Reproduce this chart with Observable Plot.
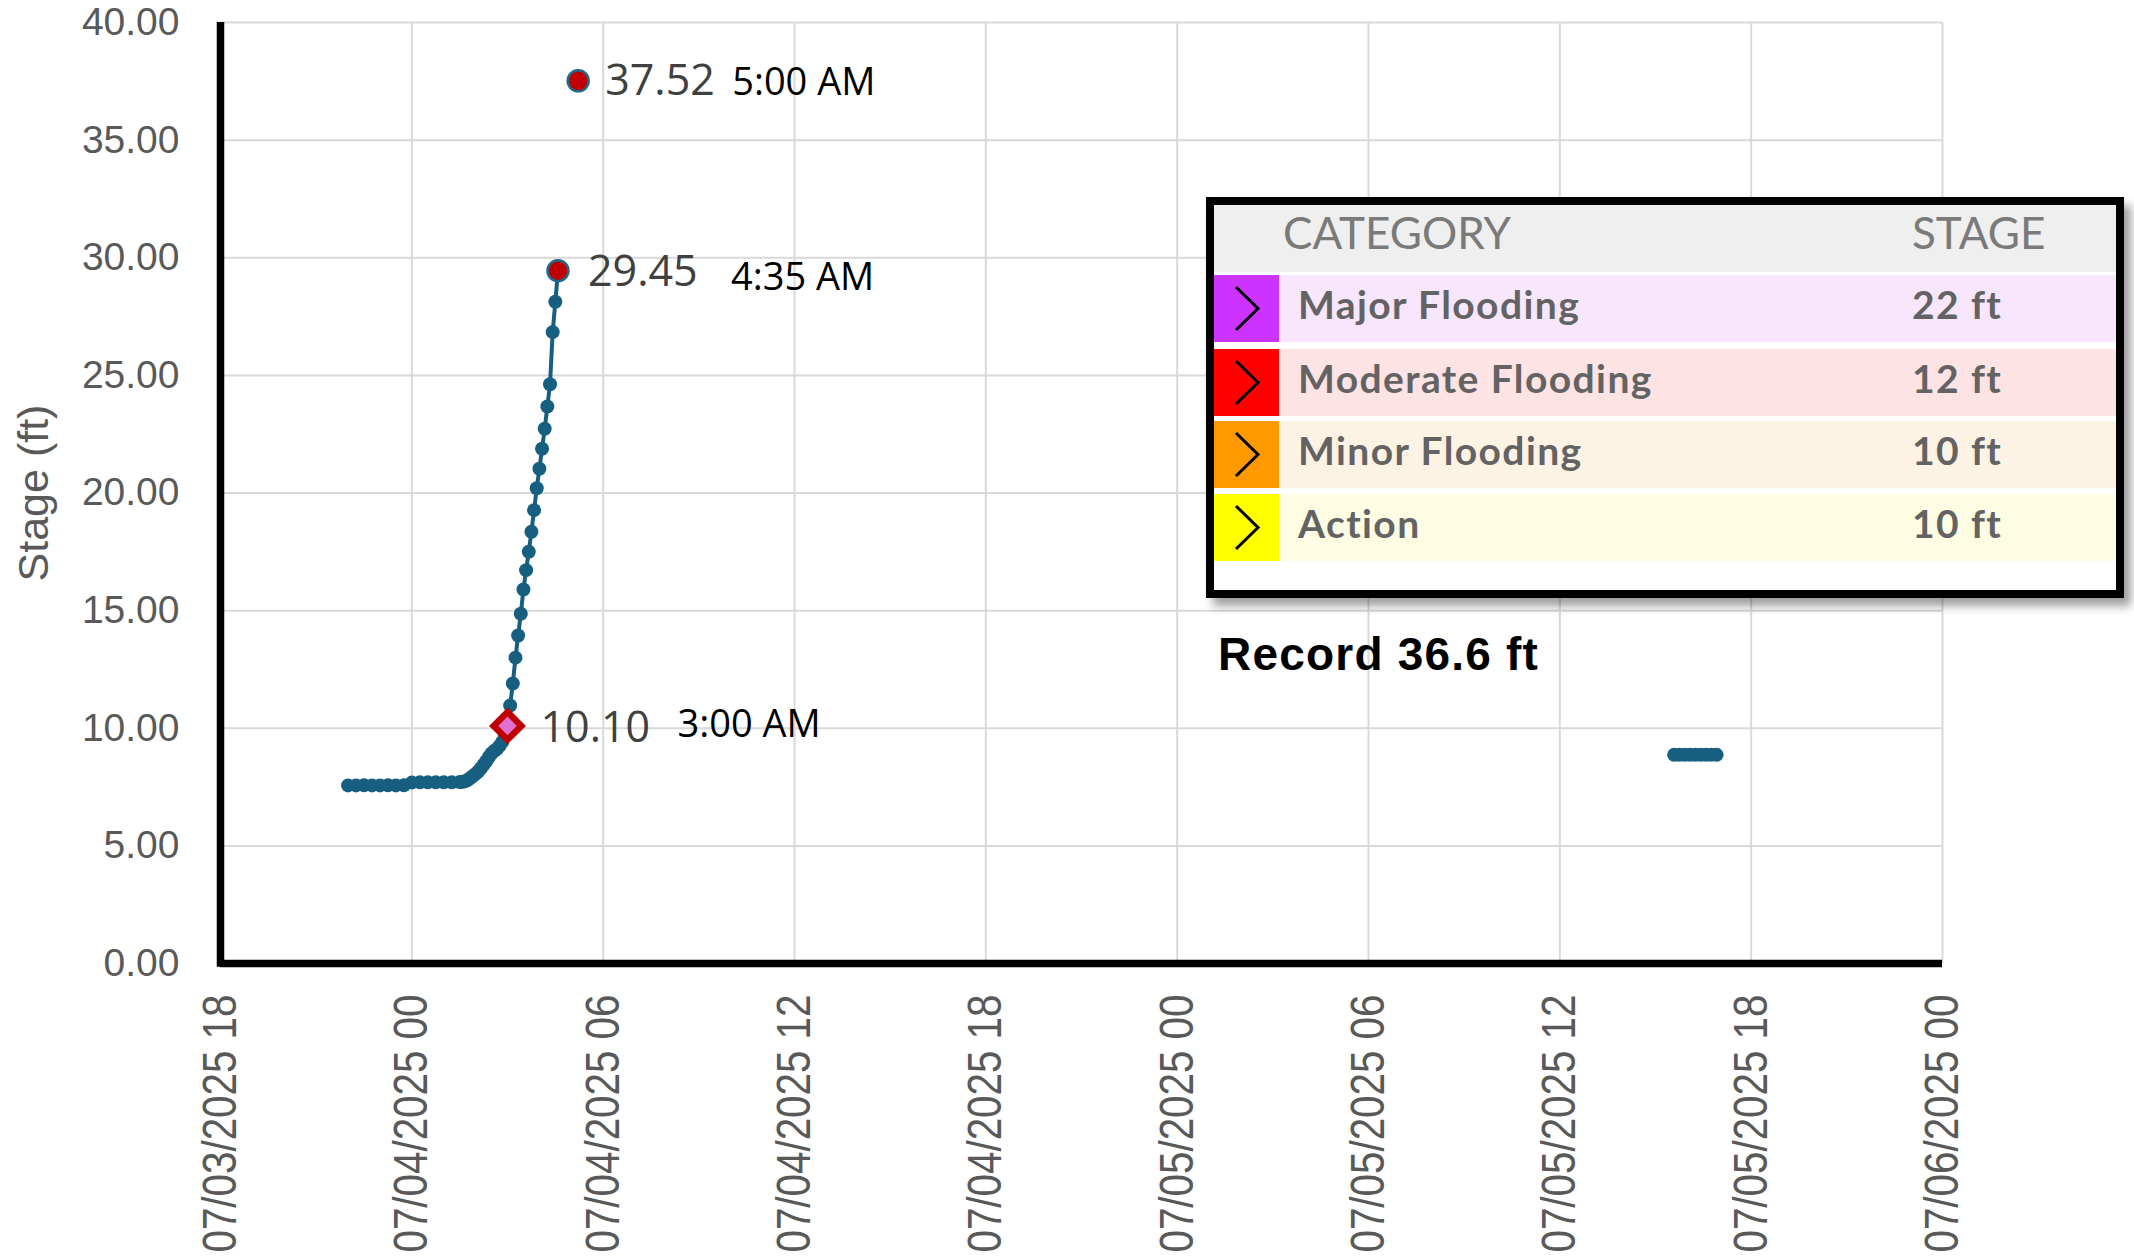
<!DOCTYPE html>
<html>
<head>
<meta charset="utf-8">
<script src="https://cdn.jsdelivr.net/npm/d3@7"></script>
<script src="https://cdn.jsdelivr.net/npm/@observablehq/plot@0.6"></script>
<style>
  body { margin: 0; background: #fff; }
  #wrap { position: relative; width: 2134px; height: 1259px; overflow: hidden; background: #fff; }
  #legend { position: absolute; left: 1206px; top: 197px; width: 902px; height: 385px;
            border: 8px solid #000; background: #fff; box-shadow: 7px 8px 9px rgba(0,0,0,0.38);
            font-family: Lato, "Open Sans", sans-serif; }
  #legend .hdr { position: absolute; left: 0; top: 0; width: 902px; height: 67px; background: #efefef; }
  #legend .hdr span { position: absolute; top: 5px; font-size: 44px; line-height: 1; color: #7a7a7a; font-weight: 400; }
  #legend .row { position: absolute; left: 0; width: 902px; height: 67px; }
  #legend .sw { position: absolute; left: 0; top: 0; width: 65px; height: 67px; }
  #legend .sw svg { display: block; }
  #legend .row span { position: absolute; top: 10px; font-size: 39px; line-height: 1; color: #636363; font-weight: 700; letter-spacing: 1.4px; }
  #record { position: absolute; left: 1218px; top: 631px; font-family: "Liberation Sans", Arial, sans-serif;
            font-weight: 700; font-size: 46px; line-height: 1; letter-spacing: 1.2px; color: #000; }
</style>
</head>
<body>
<div id="wrap">
  <div id="chart"></div>
  <div id="legend"></div>
  <div id="record"></div>
</div>
<script>
// ---------------- data ----------------
const seg1Times = [
  "2025-07-03T22:00","2025-07-03T22:15","2025-07-03T22:30","2025-07-03T22:45",
  "2025-07-03T23:00","2025-07-03T23:15","2025-07-03T23:30","2025-07-03T23:45",
  "2025-07-04T00:00","2025-07-04T00:15","2025-07-04T00:30","2025-07-04T00:45",
  "2025-07-04T01:00","2025-07-04T01:15","2025-07-04T01:30",
  "2025-07-04T01:35","2025-07-04T01:40","2025-07-04T01:45","2025-07-04T01:50","2025-07-04T01:55",
  "2025-07-04T02:00","2025-07-04T02:05","2025-07-04T02:10","2025-07-04T02:15","2025-07-04T02:20",
  "2025-07-04T02:25","2025-07-04T02:30","2025-07-04T02:35","2025-07-04T02:40","2025-07-04T02:45",
  "2025-07-04T02:50","2025-07-04T02:55","2025-07-04T03:00",
  "2025-07-04T03:05","2025-07-04T03:10","2025-07-04T03:15","2025-07-04T03:20","2025-07-04T03:25",
  "2025-07-04T03:30","2025-07-04T03:35","2025-07-04T03:40","2025-07-04T03:45","2025-07-04T03:50",
  "2025-07-04T03:55","2025-07-04T04:00","2025-07-04T04:05","2025-07-04T04:10","2025-07-04T04:15",
  "2025-07-04T04:20","2025-07-04T04:25","2025-07-04T04:30","2025-07-04T04:35"
];
const seg1Stage = [
  7.57, 7.57, 7.58, 7.57,
  7.57, 7.58, 7.57, 7.58,
  7.69, 7.70, 7.70, 7.70,
  7.70, 7.70, 7.71,
  7.72, 7.75, 7.80, 7.88, 7.97,
  8.06, 8.16, 8.30, 8.45, 8.60,
  8.78, 8.93, 9.03, 9.12, 9.25,
  9.42, 9.70, 10.10,
  10.97, 11.90, 13.00, 13.94, 14.87,
  15.90, 16.72, 17.50, 18.35, 19.27,
  20.20, 21.03, 21.88, 22.73, 23.68,
  24.62, 26.84, 28.13, 29.45
];
const seg2Times = [
  "2025-07-05T15:35","2025-07-05T15:45","2025-07-05T15:55","2025-07-05T16:05","2025-07-05T16:15",
  "2025-07-05T16:25","2025-07-05T16:35","2025-07-05T16:45","2025-07-05T16:55"
];
const seg2Stage = [8.87, 8.87, 8.87, 8.87, 8.87, 8.87, 8.87, 8.87, 8.87];

const peakTimes = ["2025-07-04T05:13", "2025-07-04T04:35"];
const peakStage = [37.52, 29.45];
const crossTime = ["2025-07-04T03:00"];
const crossStage = [10.10];

const annTimes  = ["2025-07-04T05:13", "2025-07-04T04:35", "2025-07-04T03:00"];
const annStage  = [37.52, 29.45, 10.10];
const annValueLabels = ["37.52", "29.45", "10.10"];
const annTimeLabels  = ["5:00 AM", "4:35 AM", "3:00 AM"];

const xTicks = ["2025-07-03T18:00","2025-07-04T00:00","2025-07-04T06:00","2025-07-04T12:00",
                "2025-07-04T18:00","2025-07-05T00:00","2025-07-05T06:00","2025-07-05T12:00",
                "2025-07-05T18:00","2025-07-06T00:00"];
const yTicks = [0, 5, 10, 15, 20, 25, 30, 35, 40];
const yTitle = "Stage (ft)";

const legendCategories = ["Major Flooding", "Moderate Flooding", "Minor Flooding", "Action"];
const legendStages = ["22 ft", "12 ft", "10 ft", "10 ft"];
const legendSwatches = ["#cc33ff", "#ff0000", "#ff9900", "#ffff00"];
const legendRowBg = ["#f8e6fd", "#fde3e3", "#fdf3e5", "#fefde4"];
const recordText = "Record 36.6 ft";

// ---------------- build ----------------
const parse = s => new Date(s + ":00Z");
const series = [
  ...seg1Times.map((t, i) => ({t: parse(t), v: seg1Stage[i], s: "a"})),
  ...seg2Times.map((t, i) => ({t: parse(t), v: seg2Stage[i], s: "b"}))
];
const peaks = peakTimes.map((t, i) => ({t: parse(t), v: peakStage[i]}));
const cross = crossTime.map((t, i) => ({t: parse(t), v: crossStage[i]}));
const anns = annTimes.map((t, i) => ({t: parse(t), v: annStage[i], num: annValueLabels[i], time: annTimeLabels[i]}));
const xT = xTicks.map(parse);

const col = "#175f80";
const numDx = [27, 30, 33], numDy = [0, 2, 2];
const timeDx = [154, 173, 170], timeDy = [2, 7, -1];

const annMarks = [];
anns.forEach((a, i) => {
  annMarks.push(Plot.text([a], {x: "t", y: "v", text: "num", dx: numDx[i], dy: numDy[i], textAnchor: "start",
    fontSize: 43, fill: "#404040", fontFamily: "Open Sans, sans-serif"}));
  annMarks.push(Plot.text([a], {x: "t", y: "v", text: "time", dx: timeDx[i], dy: timeDy[i], textAnchor: "start",
    fontSize: 38, fill: "#000", fontFamily: "Open Sans, sans-serif"}));
});

const chart = Plot.plot({
  width: 2134, height: 1259,
  marginLeft: 220, marginRight: 192, marginTop: 22, marginBottom: 296,
  style: {background: "#fff", fontFamily: "Liberation Sans, Arial, sans-serif", overflow: "visible"},
  x: {type: "utc", domain: [xT[0], xT[xT.length - 1]]},
  y: {domain: [0, 40]},
  marks: [
    Plot.gridY(yTicks, {stroke: "#d9d9d9", strokeOpacity: 1, strokeWidth: 2}),
    Plot.gridX(xT, {stroke: "#d9d9d9", strokeOpacity: 1, strokeWidth: 2}),
    Plot.axisY(yTicks, {tickSize: 0, tickPadding: 41, tickFormat: d => d.toFixed(2), fontSize: 39,
      fill: "#595959", fontFamily: "Liberation Sans, Arial, sans-serif", label: null}),
    Plot.axisX(xT, {tickSize: 0, tickRotate: -90, tickPadding: 31, tickFormat: d3.utcFormat("%m/%d/%Y %H"),
      fontSize: 48, fill: "#595959", fontFamily: "Liberation Sans, Arial, sans-serif", label: null}),
    Plot.text([yTitle], {frameAnchor: "left", textAnchor: "middle", dx: -186, rotate: -90, fontSize: 43, fill: "#595959",
      fontFamily: "Liberation Sans, Arial, sans-serif"}),
    Plot.ruleX([xT[0]], {stroke: "#000", strokeWidth: 7.5, insetBottom: -3.75}),
    Plot.ruleY([0], {stroke: "#000", strokeWidth: 7.5}),
    Plot.line(series, {x: "t", y: "v", z: "s", stroke: col, strokeWidth: 4}),
    Plot.dot(series, {x: "t", y: "v", r: 7, fill: col}),
    Plot.dot(peaks, {x: "t", y: "v", r: 10.5, fill: "#c00000", stroke: "#1f6a8a", strokeWidth: 2.5}),
    Plot.dot(cross, {x: "t", y: "v", symbol: "diamond2", r: 12.5, fill: "#e070d0", stroke: "#c00000", strokeWidth: 6.5}),
    ...annMarks
  ]
});
// narrow the rotated x tick labels to the reference's condensed proportions
chart.querySelectorAll('g[aria-label="x-axis tick label"] text').forEach(t => {
  t.setAttribute("textLength", "258");
  t.setAttribute("lengthAdjust", "spacingAndGlyphs");
});
document.getElementById("chart").appendChild(chart);

// legend (overlay table)
const lg = document.getElementById("legend");
let html = '<div class="hdr"><span style="left:69px">CATEGORY</span><span style="left:698px">STAGE</span></div>';
const rowTops = [70, 144, 216, 289];
legendCategories.forEach((c, i) => {
  html += `<div class="row" style="top:${rowTops[i]}px;background:${legendRowBg[i]}">` +
    `<div class="sw" style="background:${legendSwatches[i]}"><svg width="65" height="67">` +
    `<polyline points="22,12 44,33.5 22,55" fill="none" stroke="#000" stroke-width="3"/></svg></div>` +
    `<span style="left:84px">${c}</span><span style="left:698px">${legendStages[i]}</span></div>`;
});
lg.innerHTML = html;
document.getElementById("record").textContent = recordText;
</script>
</body>
</html>
